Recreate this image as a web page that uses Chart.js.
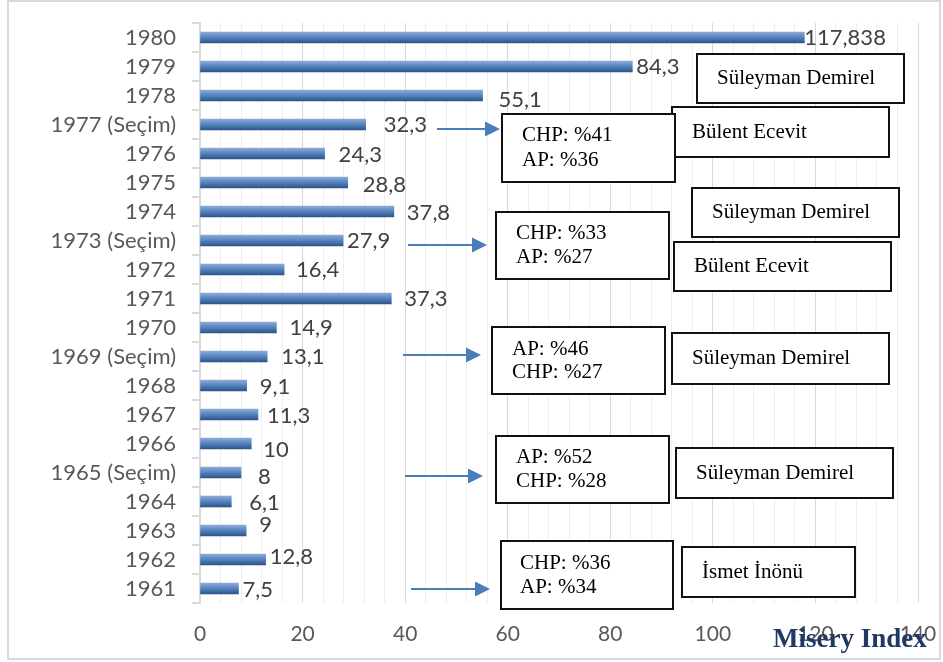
<!DOCTYPE html>
<html>
<head>
<meta charset="utf-8">
<script src="https://cdn.jsdelivr.net/npm/chart.js@4/dist/chart.umd.min.js"></script>
<style>
html,body{margin:0;padding:0;background:#fff;}
#wrap{width:943px;height:662px;position:relative;}
canvas{display:block;}
</style>
</head>
<body>
<div id="wrap"><canvas id="c" width="943" height="662"></canvas></div>
<script>
// ---- data ----
const categories = ["1980","1979","1978","1977 (Seçim)","1976","1975","1974","1973 (Seçim)","1972","1971","1970","1969 (Seçim)","1968","1967","1966","1965 (Seçim)","1964","1963","1962","1961"];
const miseryIndex = [117.838,84.3,55.1,32.3,24.3,28.8,37.8,27.9,16.4,37.3,14.9,13.1,9.1,11.3,10,8,6.1,9,12.8,7.5];
const xTicks = [0,20,40,60,80,100,120,140];
const axisTitle = "Misery Index";

// election annotations: year row, vote lines, prime minister boxes
const electionRows = ["1977 (Seçim)","1973 (Seçim)","1969 (Seçim)","1965 (Seçim)","1961"];
const voteLines = [["CHP: %41","AP: %36"],["CHP: %33","AP: %27"],["AP: %46","CHP: %27"],["AP: %52","CHP: %28"],["CHP: %36","AP: %34"]];
const leaders = ["Süleyman Demirel","Bülent Ecevit","Süleyman Demirel","Bülent Ecevit","Süleyman Demirel","Süleyman Demirel","İsmet İnönü"];

// ---- styling / layout (not data) ----
const labelOffsets = [[0,0],[4,0],[16,4],[18,0],[14,1],[15,2],[13,1],[4,0],[12,0],[13,0],[13,0],[14,0],[13,1],[9,1],[12,6],[17,4],[18,1],[13,-6],[4,-3],[4,1]];
const voteBoxes = [[502,114,675,182],[496,212,669,279],[492,327,665,394],[496,436,669,503],[501,541,673,609]];
const arrows = [[437,500,4],[408,487,4],[403,481,-2],[405,483,3],[411,490,0]];
const leaderBoxes = [[697,54,904,103],[672,107,889,157],[692,188,899,237],[674,242,891,291],[672,333,889,384],[676,448,893,498],[682,547,855,597]];

function fmt(v){ return String(v).replace('.', ','); }

const annotate = {
  id: 'annotate',
  afterDraw(chart){
    const c = chart.ctx;
    const meta = chart.getDatasetMeta(0);
    const yS = chart.scales.y;
    c.save();
    // value labels
    c.font = '22px Lato';
    c.fillStyle = '#404040';
    c.textAlign = 'left';
    c.textBaseline = 'middle';
    meta.data.forEach((bar, i) => {
      const o = labelOffsets[i];
      c.fillText(fmt(miseryIndex[i]), bar.x + o[0], bar.y + o[1]);
    });
    function box(b, lines, tx, lineGap){
      c.fillStyle = '#fff';
      c.fillRect(b[0], b[1], b[2]-b[0], b[3]-b[1]);
      c.strokeStyle = '#111';
      c.lineWidth = 2;
      c.strokeRect(b[0], b[1], b[2]-b[0], b[3]-b[1]);
      c.fillStyle = '#000';
      c.font = '21px "Liberation Serif", "Times New Roman", serif';
      c.textAlign = 'left';
      c.textBaseline = 'middle';
      const mid = (b[1]+b[3])/2;
      const n = lines.length;
      lines.forEach((t, k) => {
        c.fillText(t, b[0] + tx, mid + (k - (n-1)/2) * lineGap);
      });
    }
    box(leaderBoxes[0], [leaders[0]], 20, 0);
    box(leaderBoxes[1], [leaders[1]], 20, 0);
    box(voteBoxes[0], voteLines[0], 20, 25);
    box(leaderBoxes[2], [leaders[2]], 20, 0);
    box(leaderBoxes[3], [leaders[3]], 20, 0);
    box(voteBoxes[1], voteLines[1], 20, 24);
    box(leaderBoxes[4], [leaders[4]], 20, 0);
    box(voteBoxes[2], voteLines[2], 20, 23);
    box(leaderBoxes[5], [leaders[5]], 20, 0);
    box(voteBoxes[3], voteLines[3], 20, 24);
    box(leaderBoxes[6], [leaders[6]], 20, 0);
    box(voteBoxes[4], voteLines[4], 19, 24);
    // arrows
    c.strokeStyle = '#4a7ebb';
    c.fillStyle = '#4a7ebb';
    c.lineWidth = 2;
    electionRows.forEach((row, k) => {
      const a = arrows[k];
      const y = Math.round(yS.getPixelForValue(categories.indexOf(row))) + a[2];
      c.beginPath();
      c.moveTo(a[0], y);
      c.lineTo(a[1] - 12, y);
      c.stroke();
      c.beginPath();
      c.moveTo(a[1] - 15, y - 7.5);
      c.lineTo(a[1], y);
      c.lineTo(a[1] - 15, y + 7.5);
      c.closePath();
      c.fill();
    });
    // axis title
    c.font = 'bold 27px "Liberation Serif", "Times New Roman", serif';
    c.fillStyle = '#1f3864';
    c.textAlign = 'left';
    c.textBaseline = 'alphabetic';
    c.fillText(axisTitle, 773, 647);
    // outer border
    c.strokeStyle = '#d9d9d9';
    c.lineWidth = 2;
    c.strokeRect(8, 1, 932, 658);
    c.restore();
  }
};

function barFill(ctx){
  const chart = ctx.chart;
  if (!chart.chartArea || ctx.dataIndex === undefined) return '#4f7cb9';
  const y = chart.scales.y.getPixelForValue(ctx.dataIndex);
  const g = chart.ctx.createLinearGradient(0, y - 5.5, 0, y + 5.5);
  g.addColorStop(0, '#8cacd8');
  g.addColorStop(0.5, '#5582bf');
  g.addColorStop(1, '#2c5489');
  return g;
}

function noPad(s){ s.paddingTop = 0; s.paddingBottom = 0; s.paddingLeft = 0; s.paddingRight = 0; }

new Chart(document.getElementById('c'), {
  type: 'bar',
  data: {
    labels: categories,
    datasets: [{
      data: miseryIndex,
      backgroundColor: barFill,
      borderWidth: 0,
      barThickness: 11
    }]
  },
  options: {
    indexAxis: 'y',
    responsive: false,
    animation: false,
    devicePixelRatio: 1,
    layout: { autoPadding: false, padding: { top: 23, right: 25, left: 0, bottom: 0 } },
    plugins: { legend: { display: false }, tooltip: { enabled: false } },
    scales: {
      x: {
        min: 0, max: 140,
        afterBuildTicks(s){
          const t = [];
          for (let v = 0; v <= 140; v += 4) t.push({ value: v });
          s.ticks = t;
        },
        afterFit(s){ s.height = 59; noPad(s); },
        ticks: {
          autoSkip: false, maxRotation: 0, padding: 19,
          font: { family: 'Lato', size: 21 }, color: '#595959',
          callback: (v) => xTicks.includes(v) ? String(v) : ''
        },
        grid: {
          drawTicks: false,
          color: (ctx) => (ctx.tick && xTicks.includes(ctx.tick.value)) ? '#d9d9d9' : '#efefef',
          lineWidth: 1
        },
        border: { display: false }
      },
      y: {
        afterFit(s){ s.width = 200; noPad(s); },
        ticks: { padding: 16, font: { family: 'Lato', size: 22 }, color: '#595959', autoSkip: false },
        grid: { offset: true, drawOnChartArea: false, tickLength: 8, color: '#d9d9d9', lineWidth: 2 },
        border: { display: true, color: '#d9d9d9', width: 2 }
      }
    }
  },
  plugins: [annotate]
});
</script>
</body>
</html>
